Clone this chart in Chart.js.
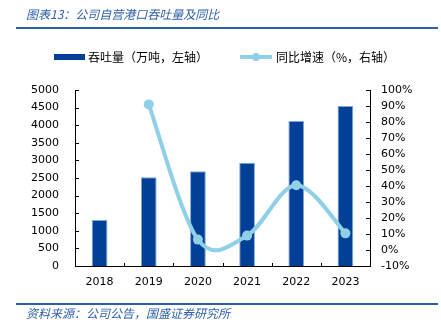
<!DOCTYPE html>
<html>
<head>
<meta charset="utf-8">
<script src="https://cdn.jsdelivr.net/npm/chart.js@4/dist/chart.umd.min.js"></script>
<style>
  body { margin: 0; background: #fff; }
  #wrap { width: 441px; height: 332px; }
</style>
</head>
<body>
<div id="wrap"><canvas id="canvas" width="441" height="332"></canvas></div>
<script>
// data
const years = ['2018', '2019', '2020', '2021', '2022', '2023'];
const throughput = [1310, 2520, 2690, 2930, 4120, 4545];   // 万吨
const yoyGrowth = [null, 91, 6.5, 9, 40.5, 10.4];           // %
const titleText = '图表13：公司自营港口吞吐量及同比';
const sourceText = '资料来源：公司公告，国盛证券研究所';
const barLabel = '吞吐量（万吨，左轴）';
const lineLabel = '同比增速（%，右轴）';

const barColor = '#023f96';
const lineColor = '#8fd0e8';
const themeBlue = '#2d5fa6';
const tickFont = { family: 'DejaVu Sans', size: 11 };
const cjkFont = '"Noto Sans CJK SC"';

// spreadsheet-style smoothing: tangent = (next - prev) / 6
const smoothLine = {
    id: 'smoothLine',
    beforeDatasetDraw(chart, args) {
        const meta = args.meta;
        if (meta.type !== 'line') return;
        const pts = meta.data.filter(p => !p.skip);
        pts.forEach((p, i) => {
            const prev = pts[i - 1] || p;
            const next = pts[i + 1] || p;
            const dx = (next.x - prev.x) / 6;
            const dy = (next.y - prev.y) / 6;
            p.cp1x = p.x - dx; p.cp1y = p.y - dy;
            p.cp2x = p.x + dx; p.cp2y = p.y + dy;
        });
        meta.dataset._pointsUpdated = true;
    }
};

// title, rules, legend, source and inward tick marks
const decor = {
    id: 'decor',
    afterDatasetsDraw(chart) {
        const ctx = chart.ctx;
        const a = chart.chartArea;
        const x = chart.scales.x, y = chart.scales.y, y1 = chart.scales.y1;
        ctx.save();

        // inward ticks
        ctx.strokeStyle = '#000';
        ctx.lineWidth = 1;
        ctx.beginPath();
        y.ticks.forEach(t => {
            const py = Math.round(y.getPixelForValue(t.value)) + 0.5;
            ctx.moveTo(a.left, py); ctx.lineTo(a.left + 4, py);
        });
        y1.ticks.forEach(t => {
            const py = Math.round(y1.getPixelForValue(t.value)) + 0.5;
            ctx.moveTo(a.right - 4, py); ctx.lineTo(a.right, py);
        });
        for (let i = 1; i < years.length; i++) {
            const px = Math.round((x.getPixelForValue(i - 1) + x.getPixelForValue(i)) / 2) + 0.5;
            ctx.moveTo(px, a.bottom); ctx.lineTo(px, a.bottom - 3);
        }
        ctx.stroke();

        // title and rules
        ctx.fillStyle = themeBlue;
        ctx.font = 'italic 12px ' + cjkFont;
        ctx.textBaseline = 'middle';
        ctx.textAlign = 'left';
        ctx.fillText(titleText, 26, 14);
        ctx.fillText(sourceText, 26, 313);
        ctx.fillRect(16, 27, 422, 2);
        ctx.fillRect(16, 303, 422, 2);

        // legend
        ctx.fillStyle = barColor;
        ctx.fillRect(54, 54, 31, 6);
        ctx.fillStyle = '#000';
        ctx.font = '12px ' + cjkFont;
        ctx.fillText(barLabel, 88, 57);
        ctx.strokeStyle = lineColor;
        ctx.lineWidth = 4;
        ctx.beginPath();
        ctx.moveTo(240, 57); ctx.lineTo(272, 57);
        ctx.stroke();
        ctx.fillStyle = lineColor;
        ctx.beginPath();
        ctx.arc(256, 57, 4, 0, Math.PI * 2);
        ctx.fill();
        ctx.fillStyle = '#000';
        ctx.fillText(lineLabel, 276, 57);

        ctx.restore();
    }
};

const chart = new Chart(document.getElementById('canvas'), {
    type: 'bar',
    data: {
        labels: years,
        datasets: [{
            type: 'line',
            label: lineLabel,
            data: yoyGrowth,
            yAxisID: 'y1',
            borderColor: lineColor,
            backgroundColor: lineColor,
            borderWidth: 4,
            pointRadius: 5,
            pointBorderWidth: 0,
            pointBackgroundColor: lineColor,
            tension: 0.4,
            order: 0
        }, {
            label: barLabel,
            data: throughput,
            yAxisID: 'y',
            backgroundColor: barColor,
            borderColor: '#7ea6d8',
            borderWidth: 1,
            categoryPercentage: 1,
            barPercentage: 0.32,
            order: 1
        }]
    },
    options: {
        responsive: false,
        animation: false,
        layout: { padding: { top: 90, left: 0, right: 0, bottom: 0 } },
        plugins: {
            legend: { display: false },
            title: { display: false },
            tooltip: { enabled: false }
        },
        scales: {
            x: {
                grid: { display: false, drawTicks: false },
                border: { display: true, color: '#000', width: 1 },
                ticks: { color: '#000', font: tickFont, padding: 10, maxRotation: 0 },
                afterFit: s => { s.height = 66; }
            },
            y: {
                position: 'left',
                min: 0,
                max: 5000,
                grid: { display: false, drawTicks: false },
                border: { display: true, color: '#000', width: 1 },
                ticks: { stepSize: 500, autoSkip: false, color: '#000', font: tickFont, padding: 16,
                    callback: v => String(v) },
                afterFit: s => { s.width = 75; }
            },
            y1: {
                position: 'right',
                min: -10,
                max: 100,
                grid: { display: false, drawTicks: false },
                border: { display: true, color: '#000', width: 1 },
                ticks: { stepSize: 10, autoSkip: false, color: '#000', font: tickFont, padding: 11,
                    callback: v => v + '%' },
                afterFit: s => { s.width = 71; }
            }
        }
    },
    plugins: [smoothLine, decor]
});
</script>
</body>
</html>
